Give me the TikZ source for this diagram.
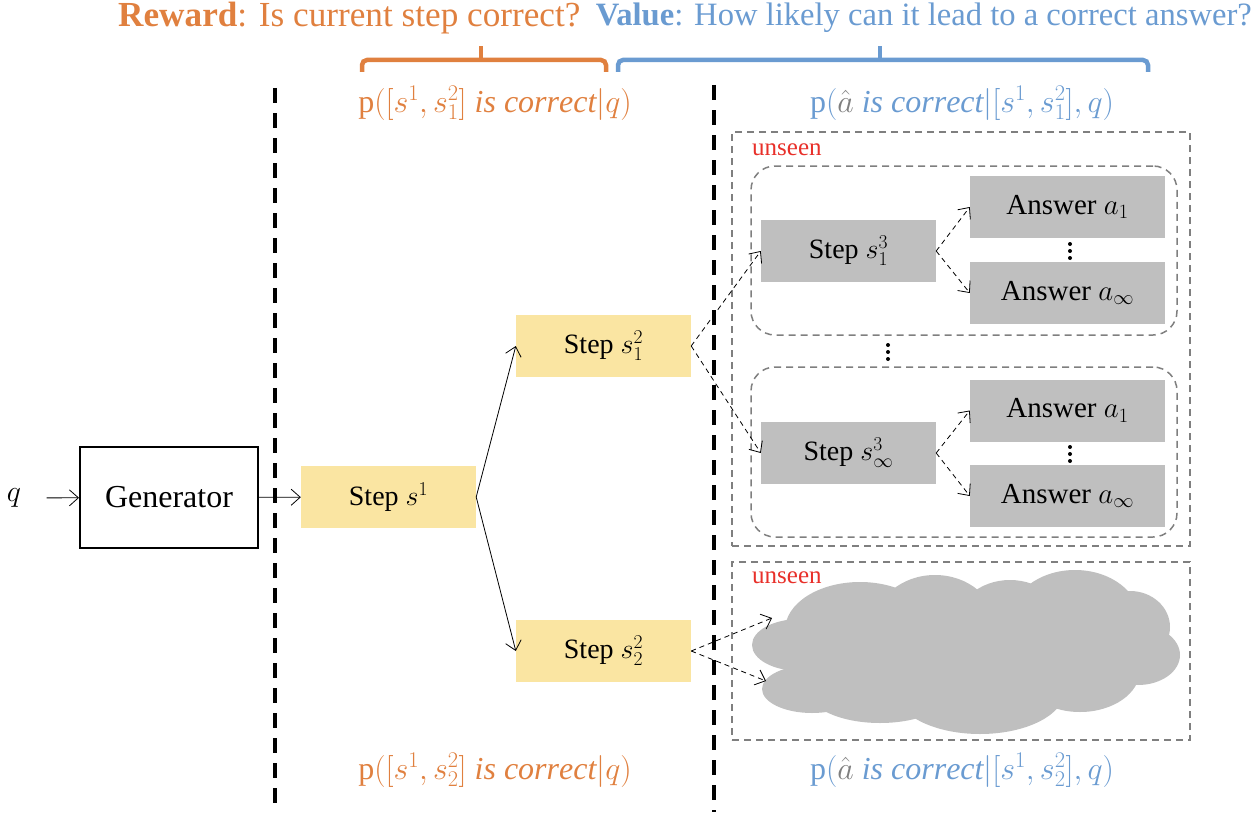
\RequirePackage{fix-cm}
\documentclass[tikz,border=0pt]{standalone}
\usepackage{amsmath}
\usepackage{fontspec}
\setmainfont{Liberation Serif}
\usepackage{tikz}
\usetikzlibrary{positioning,arrows.meta}
\definecolor{PRMOrange}{HTML}{E0803F}
\definecolor{PRMBlue}{HTML}{6A9BD1}
\definecolor{PRMYellow}{HTML}{FAE5A2}
\definecolor{PRMGray}{HTML}{BFBFBF}
\definecolor{PRMLine}{HTML}{7F7F7F}
\definecolor{PRMRed}{HTML}{E8302A}
\tikzset{
  stepbox/.style={fill=PRMYellow,minimum width=175pt,minimum height=62pt,inner sep=0pt,
    font=\fontsize{28}{33}\selectfont},
  hidbox/.style={fill=PRMGray,minimum width=175pt,minimum height=62pt,inner sep=0pt,
    font=\fontsize{28}{33}\selectfont},
  ansbox/.style={fill=PRMGray,minimum width=195pt,minimum height=62pt,inner sep=0pt,
    font=\fontsize{29}{34}\selectfont},
  unseenbox/.style={draw=PRMLine,line width=1.5pt,dash pattern=on 7pt off 5pt,inner sep=0pt},
  groupbox/.style={unseenbox,rounded corners=24pt},
  unseenlbl/.style={text=PRMRed,font=\fontsize{25}{30}\selectfont,anchor=west,inner sep=0pt},
  problbl/.style={font=\fontsize{32}{37}\selectfont,inner sep=0pt},
  solidarr/.style={->,line width=0.8pt},
  dasharr/.style={->,line width=0.8pt,dash pattern=on 5pt off 4pt},
  divider/.style={line width=3.5pt,dash pattern=on 15pt off 10pt}
}

\begin{document}
\begin{tikzpicture}[x=1pt,y=-1pt,>={Straight Barb[length=9pt,width=16pt]}]
    \useasboundingbox (0,0) rectangle (1256,816);
    \node[anchor=west,text=PRMOrange,font=\fontsize{35.2}{40}\selectfont,inner sep=0pt]
      (rwtitle) at (118,18) {\textbf{Reward}: Is current step correct?};
    \node[anchor=east,text=PRMBlue,font=\fontsize{32.6}{38}\selectfont,inner sep=0pt]
      (vltitle) at (1252,18) {\textbf{Value}: How likely can it lead to a correct answer?};
    \draw[PRMOrange,line width=4.5pt,rounded corners=5pt] (362,72) -- (362,60) -- (606,60) -- (606,72);
    \draw[PRMOrange,line width=4.5pt] (481,60) -- (481,46);
    \draw[PRMBlue,line width=4.5pt,rounded corners=5pt] (618,72) -- (618,60) -- (1148,60) -- (1148,72);
    \draw[PRMBlue,line width=4.5pt] (880,60) -- (880,46);
    \draw[divider] (275,88) -- (275,812);
    \draw[divider] (714,85) -- (714,812);
    \node[problbl,text=PRMOrange] (rw1) at (495,103) {p$([s^1, s^2_1]\ \mathit{is\ correct}|q)$};
    \node[problbl,text=PRMBlue] (vl1) at (962,103)
      {p$(\textcolor{PRMLine}{\hat{a}}\ \mathit{is\ correct}|[s^1, s^2_1],q)$};
    \node[problbl,text=PRMOrange] (rw2) at (495,770) {p$([s^1, s^2_2]\ \mathit{is\ correct}|q)$};
    \node[problbl,text=PRMBlue] (vl2) at (962,770)
      {p$(\textcolor{PRMLine}{\hat{a}}\ \mathit{is\ correct}|[s^1, s^2_2],q)$};
    \node[font=\fontsize{30}{35}\selectfont] (q) at (14,498) {$q$};
    \node[draw,line width=2pt,minimum width=178pt,minimum height=101pt,
      font=\fontsize{32}{37}\selectfont] (gen) at (169,497.5) {Generator};
    \node[stepbox] (s1) at (388.5,497) {Step $s^1$};
    \node[stepbox] (s21) at (603.5,346) {Step $s^2_1$};
    \node[stepbox] (s22) at (603.5,651) {Step $s^2_2$};
    \node[unseenbox,minimum width=458pt,minimum height=414pt] (box1) at (961,339) {};
    \node[unseenbox,minimum width=458pt,minimum height=178pt] (box2) at (961,651) {};
    \node[unseenlbl] (lbl1) at (752,150) {unseen};
    \node[unseenlbl] (lbl2) at (752,578) {unseen};
    \node[groupbox,minimum width=426pt,minimum height=169pt] (grp1) at (964,250.5) {};
    \node[groupbox,minimum width=426pt,minimum height=170pt] (grp2) at (964,452) {};
    \node[hidbox] (s31) at (848.5,251) {Step $s^3_1$};
    \node[hidbox] (s3inf) at (848.5,453) {Step $s^3_\infty$};
    \node[ansbox] (a11) at (1067.5,207) {Answer $a_1$};
    \node[ansbox] (a1inf) at (1067.5,293) {Answer $a_\infty$};
    \node[ansbox] (a21) at (1067.5,410.5) {Answer $a_1$};
    \node[ansbox] (a2inf) at (1067.5,496) {Answer $a_\infty$};
    \foreach \x/\y in {1070/244,1070/251,1070/258,1070/447,1070/454,1070/461,888/345,888/352,888/359}{
      \fill (\x,\y) circle (2pt);}
    \foreach \cx/\cy/\rx/\ry in {960/650/175/55,800/645/48/26,812/689/50/24,860/630/75/48,
      935/625/60/50,1010/627/55/47,1075/620/65/50,1130/627/40/36,1138/655/42/30,
      1080/670/60/42,980/690/85/44,880/690/72/33}{
      \fill[PRMGray] (\cx,\cy) ellipse ({\rx pt} and {\ry pt});}
    \coordinate (cin1) at (772,618);
    \coordinate (cin2) at (766,681);
    \draw[solidarr,shorten <=22pt] (q) -- (gen);
    \draw[solidarr] (gen) -- (s1);
    \draw[solidarr] (s1.east) -- (s21.west);
    \draw[solidarr] (s1.east) -- (s22.west);
    \draw[dasharr] (s21.east) -- (s31.west);
    \draw[dasharr] (s21.east) -- (s3inf.west);
    \draw[dasharr] (s31.east) -- (a11.west);
    \draw[dasharr] (s31.east) -- (a1inf.west);
    \draw[dasharr] (s3inf.east) -- (a21.west);
    \draw[dasharr] (s3inf.east) -- (a2inf.west);
    \draw[dasharr] (s22.east) -- (cin1);
    \draw[dasharr] (s22.east) -- (cin2);
\end{tikzpicture}
\end{document}
